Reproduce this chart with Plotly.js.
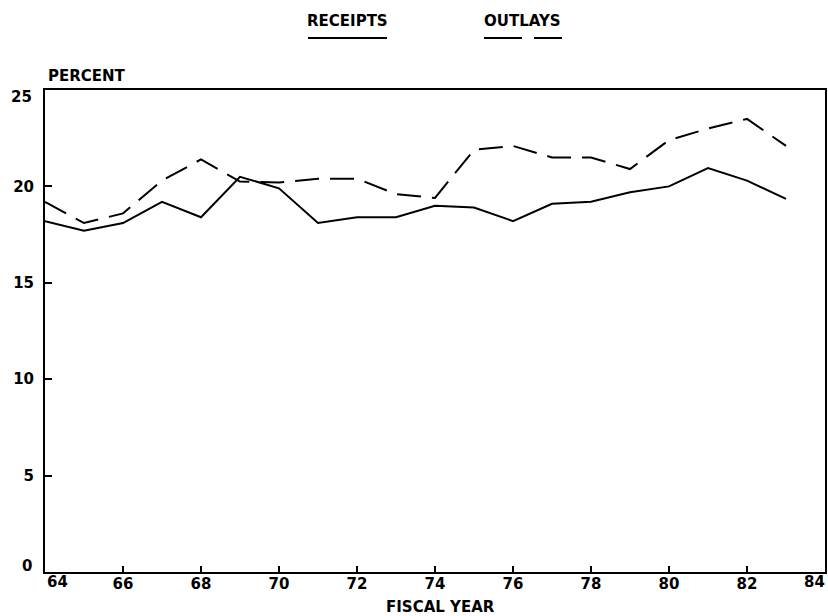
<!DOCTYPE html>
<html>
<head>
<meta charset="utf-8">
<script src="https://cdn.plot.ly/plotly-3.0.1.min.js"></script>
<style>html,body{margin:0;padding:0;background:#fff;}#chart{width:828px;height:616px;}</style>
</head>
<body>
<div id="chart"></div>
<script>
const years = [64,65,66,67,68,69,70,71,72,73,74,75,76,77,78,79,80,81,82,83];
const receipts = [18.2,17.7,18.1,19.2,18.4,20.5,19.9,18.1,18.4,18.4,19.0,18.9,18.2,19.1,19.2,19.7,20.0,20.95,20.3,19.35];
const outlays = [19.2,18.1,18.6,20.3,21.4,20.25,20.2,20.4,20.4,19.6,19.4,21.9,22.1,21.5,21.5,20.9,22.4,23.0,23.5,22.1];
const xTicks = [64,66,68,70,72,74,76,78,80,82,84];
const yTicks = [0,5,10,15,20,25];

const fam = "DejaVu Sans, Verdana, sans-serif";
const tf = {family: fam, size: 15, color: "#000", weight: "bold"};
const traces = [
  {x: years, y: receipts, mode: "lines", name: "RECEIPTS", line: {color: "#000", width: 2}},
  {x: years, y: outlays, mode: "lines", name: "OUTLAYS", line: {color: "#000", width: 2, dash: "24px,11px"}}
];
const lx = px => (px - 45) / 780;
const ly = py => 1 + (90 - py) / 482;
const xMin = xTicks[0], xMax = xTicks[xTicks.length - 1];
const yMin = yTicks[0], yMax = yTicks[yTicks.length - 1];
// inner tick labels drawn by the axis; the end labels are kept inside the frame as in the reference
const xText = xTicks.map(v => (v === xMin || v === xMax) ? "" : String(v));
const yText = yTicks.map(v => (v === yMin || v === yMax) ? "" : String(v));
const layout = {
  width: 828, height: 616,
  margin: {l: 45, r: 3, t: 90, b: 44},
  paper_bgcolor: "#fff", plot_bgcolor: "#fff",
  showlegend: false,
  font: {family: fam, size: 15, color: "#000"},
  xaxis: {range: [xMin, xMax], tickvals: xTicks, ticktext: xText,
    showgrid: false, zeroline: false, showline: true, mirror: true, linecolor: "#000", linewidth: 2,
    ticks: "inside", ticklen: 6, tickwidth: 2, tickcolor: "#000", ticklabeloverflow: "allow",
    ticklabelstandoff: -3,
    tickfont: tf},
  yaxis: {range: [yMin, yMax], tickvals: yTicks, ticktext: yText,
    showgrid: false, zeroline: false, showline: true, mirror: true, linecolor: "#000", linewidth: 2,
    ticks: "inside", ticklen: 7, tickwidth: 2, tickcolor: "#000", ticklabeloverflow: "allow",
    ticklabelstandoff: 6,
    tickfont: tf},
  annotations: [
    {text: String(xMin), xref: "x", yref: "paper", x: xMin, y: ly(582), xanchor: "left", yanchor: "middle", xshift: 0, showarrow: false, font: tf},
    {text: String(xMax), xref: "x", yref: "paper", x: xMax, y: ly(582), xanchor: "right", yanchor: "middle", xshift: 2, showarrow: false, font: tf},
    {text: String(yMax), xref: "paper", yref: "y", x: lx(34), y: yMax, xanchor: "right", yanchor: "top", yshift: 4, showarrow: false, font: tf},
    {text: String(yMin), xref: "paper", yref: "y", x: lx(34), y: yMin, xanchor: "right", yanchor: "bottom", yshift: -5, showarrow: false, font: tf},
    {text: "FISCAL YEAR", xref: "paper", yref: "paper", x: lx(440), y: ly(607), xanchor: "center", yanchor: "middle", showarrow: false, font: tf},
    {text: "PERCENT", xref: "paper", yref: "paper", x: lx(46), y: ly(76), xanchor: "left", yanchor: "middle", showarrow: false, font: tf},
    {text: "RECEIPTS", xref: "paper", yref: "paper", x: lx(347), y: ly(21), xanchor: "center", yanchor: "middle", showarrow: false, font: tf},
    {text: "OUTLAYS", xref: "paper", yref: "paper", x: lx(522), y: ly(21), xanchor: "center", yanchor: "middle", showarrow: false, font: tf}
  ],
  shapes: [
    {type: "line", xref: "paper", yref: "paper", x0: lx(308), x1: lx(387), y0: ly(38), y1: ly(38), line: {color: "#000", width: 2}},
    {type: "line", xref: "paper", yref: "paper", x0: lx(484), x1: lx(522), y0: ly(38), y1: ly(38), line: {color: "#000", width: 2}},
    {type: "line", xref: "paper", yref: "paper", x0: lx(534), x1: lx(562), y0: ly(38), y1: ly(38), line: {color: "#000", width: 2}}
  ]
};
Plotly.newPlot("chart", traces, layout, {displayModeBar: false, staticPlot: true});
</script>
</body>
</html>
